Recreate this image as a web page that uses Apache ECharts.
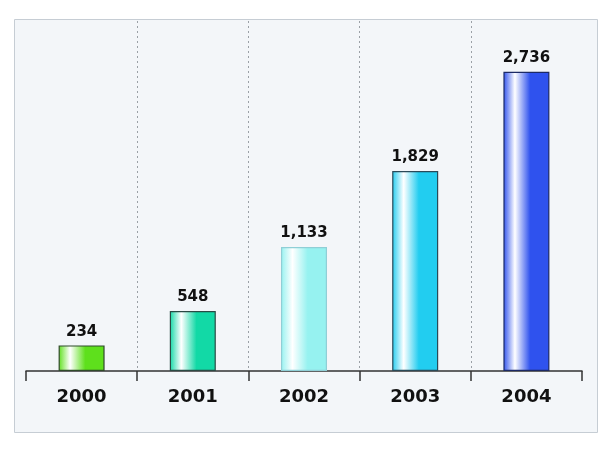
<!DOCTYPE html>
<html><head><meta charset="utf-8">
<script src="https://cdn.jsdelivr.net/npm/echarts@6/dist/echarts.min.js"></script>
<style>html,body{margin:0;padding:0;background:#fff}#c{width:610px;height:457px}</style>
</head><body><div id="c"></div>
<script>
const categories = ['2000', '2001', '2002', '2003', '2004'];
const values = [234, 548, 1133, 1829, 2736];
const barColors = ['#5ee01c', '#12d9a6', '#96f2f0', '#22cdf0', '#2f52ee'];
const borderColors = ['#2f4a2a', '#2a4a44', '#8fcfd6', '#2a4a58', '#1c2a66'];

const chart = echarts.init(document.getElementById('c'));
function grad(c) {
  return new echarts.graphic.LinearGradient(0, 0, 1, 0, [
    {offset: 0, color: c},
    {offset: 0.25, color: '#ffffff'},
    {offset: 0.58, color: c},
    {offset: 1, color: c}
  ]);
}
chart.setOption({
  animation: false,
  backgroundColor: '#ffffff',
  graphic: [{
    type: 'rect', z: -10, silent: true,
    shape: {x: 14.5, y: 19.5, width: 583, height: 413},
    style: {fill: '#f3f6f9', stroke: '#c6cdd4', lineWidth: 1}
  }],
  grid: {left: 26, right: 28, top: 21, bottom: 86},
  xAxis: {
    type: 'category',
    data: categories,
    axisLine: {lineStyle: {color: '#333', width: 1.5}},
    axisTick: {show: true, length: 10, inside: false, lineStyle: {color: '#333', width: 1.5}},
    axisLabel: {margin: 17, fontFamily: 'DejaVu Sans', fontWeight: 'bold', fontSize: 18, color: '#111'},
    splitLine: {show: true, showMinLine: false, showMaxLine: false, lineStyle: {color: '#9aa0a6', type: [2, 3], width: 1}}
  },
  yAxis: {
    type: 'value', min: 0, max: 3200,
    show: false,
    splitLine: {show: false}
  },
  series: [{
    type: 'bar',
    barWidth: 46,
    data: values.map((v, i) => ({
      value: v,
      itemStyle: {color: grad(barColors[i]), borderColor: borderColors[i], borderWidth: 1.2}
    })),
    label: {
      show: true, position: 'top', distance: 6,
      fontFamily: 'DejaVu Sans', fontWeight: 'bold', fontSize: 15, color: '#111',
      formatter: p => p.value.toLocaleString('en-US')
    }
  }]
});
</script></body></html>
